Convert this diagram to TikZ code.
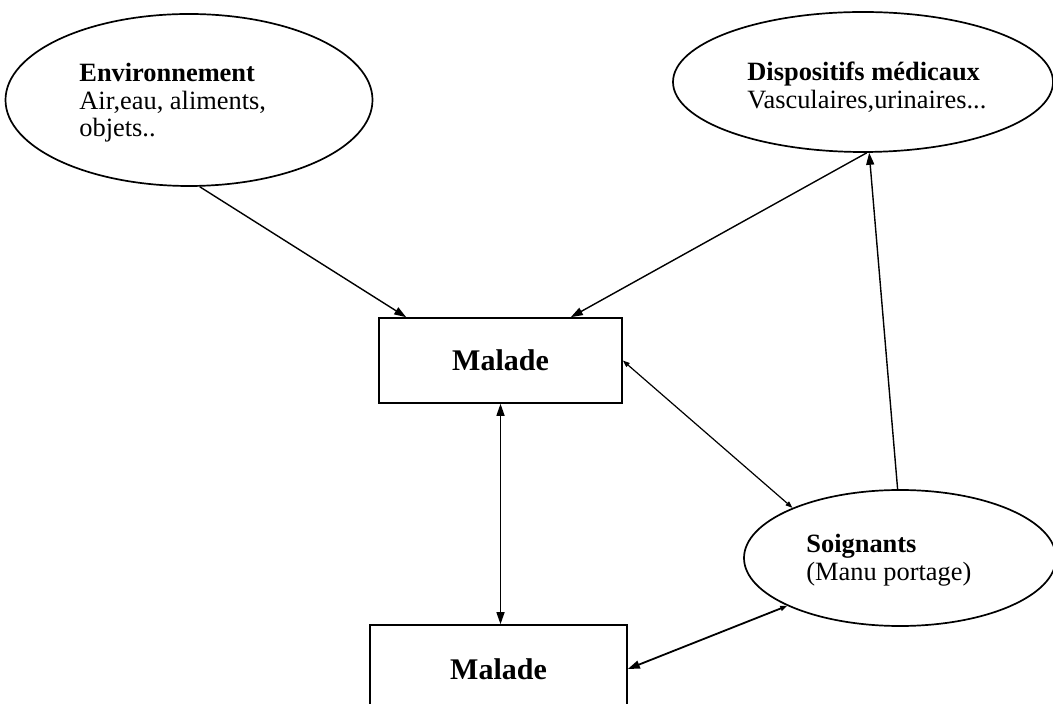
\documentclass[tikz,border=0pt]{standalone}
\usepackage{fontspec}
\setmainfont{Liberation Serif}
\usetikzlibrary{arrows.meta,shapes.geometric,calc}
\begin{document}
\begin{tikzpicture}[x=0.5pt,y=-0.5pt,
  oval/.style={ellipse,draw,line width=0.85pt,inner sep=0pt},
  box/.style={rectangle,draw,line width=0.8pt,inner sep=0pt,font=\fontsize{15}{17}\selectfont\bfseries},
  txt/.style={align=left,inner sep=0pt,anchor=north west,font=\fontsize{13.2}{13.8}\selectfont},
  conn/.style={line width=0.7pt,-{Triangle[length=6pt,width=4pt]}},
  biconn/.style={line width=0.7pt,{Triangle[length=6pt,width=4pt]}-{Triangle[length=6pt,width=4pt]}},
  smallbi/.style={line width=0.6pt,{Triangle[length=3.5pt,width=2.5pt]}-{Triangle[length=3.5pt,width=2.5pt]}},
  heavybi/.style={line width=0.9pt,{Triangle[length=3.5pt,width=2.5pt]}-{Triangle[length=6pt,width=4pt]}}]
\useasboundingbox (0,0) rectangle (1053,704);
% ellipses
\node[oval,minimum width=183.5pt,minimum height=86pt] (env) at (189,100) {};
\node[txt] (envt) at (79,63) {\textbf{Environnement}\\Air,eau, aliments,\\objets..};
\node[oval,minimum width=190pt,minimum height=70pt] (disp) at (863,82) {};
\node[txt] (dispt) at (747,62) {\textbf{Dispositifs médicaux}\\Vasculaires,urinaires...};
\node[oval,minimum width=156pt,minimum height=68pt] (soign) at (900,558) {};
\node[txt] (soignt) at (806,534) {\textbf{Soignants}\\(Manu portage)};
% boxes
\node[box,minimum width=121.5pt,minimum height=42.5pt] (m1) at (500.5,360.5) {Malade};
\node[box,minimum width=128.5pt,minimum height=44pt] (m2) at (498.5,669) {Malade};
% connectors
\draw[conn] (env.-83) -- ([xshift=14pt]m1.north west);
\draw[conn] (disp.-87.5) -- ([xshift=-26pt]m1.north east);
\draw[conn] (soign.92) -- (disp.-85);
\draw[smallbi] (m1.east) -- (soign.155);
\draw[biconn] (m1.south) -- (m1.south |- m2.north);
\draw[heavybi] (soign.203.6) -- (m2.east);
\end{tikzpicture}
\end{document}
